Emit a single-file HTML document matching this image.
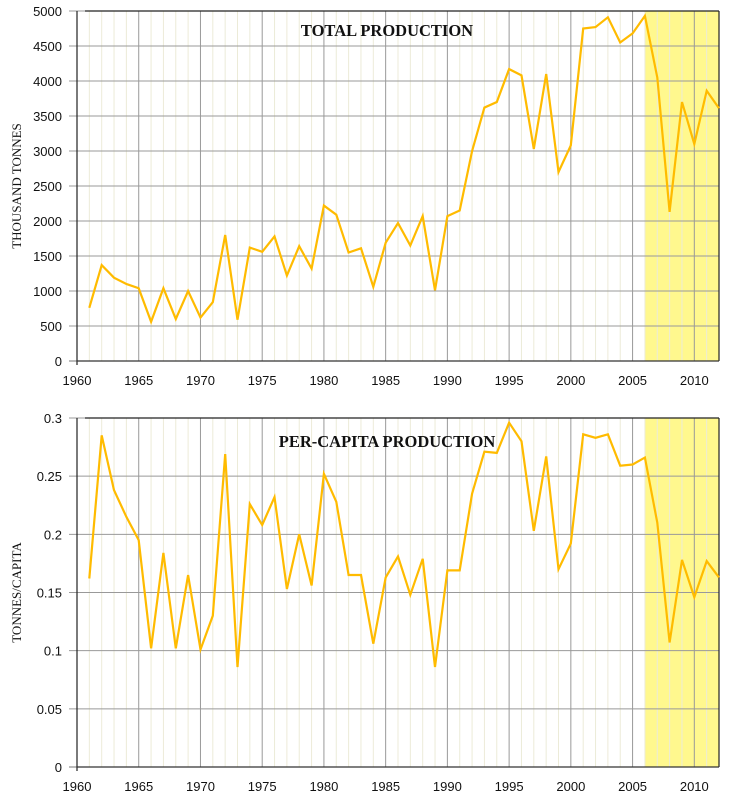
<!DOCTYPE html>
<html><head><meta charset="utf-8"><style>
body{margin:0;background:#fff;}
svg{display:block;}
</style></head><body>
<svg id="c" width="734" height="800" xmlns="http://www.w3.org/2000/svg"></svg>
<script>
const years=[1961,1962,1963,1964,1965,1966,1967,1968,1969,1970,1971,1972,1973,1974,1975,1976,1977,1978,1979,1980,1981,1982,1983,1984,1985,1986,1987,1988,1989,1990,1991,1992,1993,1994,1995,1996,1997,1998,1999,2000,2001,2002,2003,2004,2005,2006,2007,2008,2009,2010,2011,2012];
const totalValues=[760,1370,1190,1100,1040,560,1040,600,1000,620,840,1800,590,1620,1560,1780,1220,1640,1320,2220,2090,1550,1610,1060,1690,1970,1650,2070,1010,2070,2150,3000,3620,3700,4170,4080,3030,4100,2700,3080,4750,4770,4910,4550,4680,4930,4050,2130,3700,3100,3860,3610];
const perCapitaValues=[0.162,0.285,0.238,0.215,0.195,0.102,0.184,0.102,0.165,0.101,0.130,0.269,0.086,0.226,0.208,0.232,0.153,0.200,0.156,0.252,0.228,0.165,0.165,0.106,0.163,0.181,0.148,0.179,0.086,0.169,0.169,0.235,0.271,0.270,0.296,0.280,0.203,0.267,0.170,0.192,0.286,0.283,0.286,0.259,0.260,0.266,0.210,0.107,0.178,0.146,0.177,0.163];
const xTickLabels=[1960,1965,1970,1975,1980,1985,1990,1995,2000,2005,2010];
const totalTicks=[0,500,1000,1500,2000,2500,3000,3500,4000,4500,5000];
const perCapitaTicks=[0,0.05,0.1,0.15,0.2,0.25,0.3];
const shadeStart=2006, shadeEnd=2012;

const NS="http://www.w3.org/2000/svg";
const svg=document.getElementById('c');
function mk(t,a,p){const e=document.createElementNS(NS,t);for(const k in a)e.setAttribute(k,a[k]);(p||svg).appendChild(e);return e;}
const X0=77,X1=719;
function xs(y){return X0+(y-1960)/(2012-1960)*(X1-X0);}

function chart(name,top,bottom,ymax,ticks,vals,title,titleY,ytitle,fmt){
  const g=mk('g',{});
  
  
  const ys=v=>bottom-v/ymax*(bottom-top);
  const sh=mk('rect',{x:xs(shadeStart),y:top,width:xs(shadeEnd)-xs(shadeStart),height:bottom-top,fill:'#fff88e'},g);
  
  
  for(let y=1961;y<2012;y++){ if(y%5) mk('line',{x1:xs(y),x2:xs(y),y1:top,y2:bottom,stroke:'#ecebd8','stroke-width':1},g); }
  for(const y of xTickLabels){ if(y>1960) mk('line',{x1:xs(y),x2:xs(y),y1:top,y2:bottom,stroke:'#999','stroke-width':1},g); }
  for(const t of ticks){
    mk('line',{x1:X0-8,x2:X1,y1:ys(t),y2:ys(t),stroke:(t===0?'#777':'#999'),'stroke-width':1},g);
    const tx=mk('text',{x:62,y:ys(t)+5,'text-anchor':'end','font-family':'Liberation Sans, sans-serif','font-size':13,fill:'#111'},g);
    tx.textContent=fmt(t);
    
    
  }
  mk('line',{x1:X0,x2:X0,y1:top,y2:bottom+4,stroke:'#222','stroke-width':1.2},g);
  mk('line',{x1:X0+8,x2:X1,y1:top,y2:top,stroke:'#222','stroke-width':1.2},g);
  mk('line',{x1:X1,x2:X1,y1:top,y2:bottom,stroke:'#222','stroke-width':1.2},g);
  mk('line',{x1:X0,x2:X1,y1:bottom,y2:bottom,stroke:'#333','stroke-width':1.2},g);
  for(const y of xTickLabels){
    const tx=mk('text',{x:xs(y),y:bottom+24,'text-anchor':'middle','font-family':'Liberation Sans, sans-serif','font-size':13,fill:'#111'},g);
    tx.textContent=y;
    
    
  }
  const d=vals.map((v,i)=>(i?'L':'M')+xs(years[i]).toFixed(1)+','+ys(v).toFixed(1)).join('');
  const p=mk('path',{d:d,fill:'none',stroke:'#ffbb00','stroke-width':2.2,'stroke-linejoin':'miter'},g);
  
  
  const tt=mk('text',{x:387,y:titleY,'text-anchor':'middle','font-family':'Liberation Serif, serif','font-size':16.5,'font-weight':'bold',fill:'#111'},g);
  tt.textContent=title;
  
  
  const cy=(top+bottom)/2;
  const yt=mk('text',{x:21,y:cy,'text-anchor':'middle','font-family':'Liberation Serif, serif','font-size':13,fill:'#111',transform:'rotate(-90 21 '+cy+')'},g);
  yt.textContent=ytitle;
  
  
}
chart('total-production-chart',11,361,5000,totalTicks,totalValues,'TOTAL PRODUCTION',36,'THOUSAND TONNES',t=>String(t));
chart('per-capita-production-chart',418,767,0.3,perCapitaTicks,perCapitaValues,'PER-CAPITA PRODUCTION',447,'TONNES/CAPITA',t=>String(t));
</script>
</body></html>
